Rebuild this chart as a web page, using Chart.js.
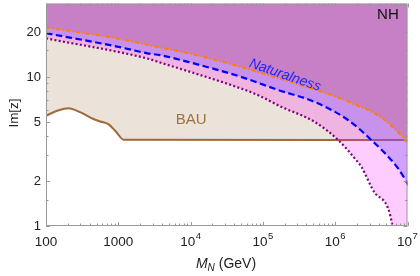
<!DOCTYPE html>
<html><head><meta charset="utf-8">
<script src="https://cdn.jsdelivr.net/npm/chart.js@4/dist/chart.umd.min.js"></script>
<style>html,body{margin:0;padding:0;background:#fff}</style>
</head><body>
<canvas id="c" width="420" height="276"></canvas>
<script>
// BAU boundary (brown solid)
const bauMass = [100, 150, 205, 300, 454, 562, 735, 930, 1186, 1e7];
const bauImz  = [5.47, 5.95, 6.13, 5.75, 5.2, 5.0, 4.79, 4.27, 3.78, 3.76];
// purple dotted; last two points sit below the axis so the fill reaches the right edge
const dotMass = [100, 2512, 3800, 49000, 85000, 178000, 513000, 1.1e6, 1.95e6, 2.3e6, 3.55e6, 6.2e6, 6.9e6, 1e7];
const dotImz  = [18.0, 13.2, 12.4, 8.34, 7.52, 6.28, 4.99, 3.76, 2.76, 2.49, 1.66, 1.0, 0.5, 0.5];
// blue dashed
const blueMass = [100, 1000, 2512, 3800, 10000, 49000, 166000, 513000, 1.5e6, 3.16e6, 7.4e6, 1.05e7];
const blueImz  = [19.5, 15.8, 14.3, 13.9, 12.4, 9.97, 8.1, 6.78, 5.12, 3.76, 2.43, 1.85];
// orange dash-dot (naturalness)
const natMass = [100, 1000, 3800, 10000, 49000, 158000, 708000, 1.5e6, 4.37e6, 8.3e6, 1e7];
const natImz  = [21.3, 17.9, 15.6, 14.2, 11.6, 9.8, 7.8, 6.8, 5.3, 4.0, 3.6];

const xMajor = [100, 1e3, 1e4, 1e5, 1e6, 1e7];
const xLabels = [['100', ''], ['1000', ''], ['10', '4'], ['10', '5'], ['10', '6'], ['10', '7']];
const yMajor = [1, 2, 5, 10, 20];
const yMinor = [1.5, 3, 4, 6, 7, 8, 9, 15, 30];

const pts = (xs, ys) => xs.map((x, i) => ({x: x, y: ys[i]}));
const FONT = '"Liberation Sans", Arial, sans-serif';

const frame = {
  id: 'frame',
  afterDraw(chart) {
    const ctx = chart.ctx, a = chart.chartArea;
    const xs = chart.scales.x, ys = chart.scales.y;
    ctx.save();
    ctx.strokeStyle = '#999';
    ctx.lineWidth = 1;
    ctx.strokeRect(a.left + 0.5, a.top + 0.5, a.right - a.left - 1, a.bottom - a.top - 1);
    ctx.beginPath();
    const xt = (v, len) => {
      const p = Math.round(xs.getPixelForValue(v)) + 0.5;
      ctx.moveTo(p, a.bottom); ctx.lineTo(p, a.bottom - len);
      ctx.moveTo(p, a.top); ctx.lineTo(p, a.top + len);
    };
    const yt = (v, len) => {
      const p = Math.round(ys.getPixelForValue(v)) + 0.5;
      ctx.moveTo(a.left, p); ctx.lineTo(a.left + len, p);
      ctx.moveTo(a.right, p); ctx.lineTo(a.right - len, p);
    };
    xMajor.forEach(v => {
      xt(v, 4);
      for (let k = 2; k < 10; k++) if (v * k < 1e7) xt(v * k, 2.5);
    });
    yMajor.forEach(v => yt(v, 4));
    yMinor.forEach(v => yt(v, 2.5));
    ctx.stroke();

    ctx.fillStyle = '#222';
    ctx.font = '13px ' + FONT;
    ctx.textAlign = 'right';
    ctx.textBaseline = 'middle';
    yMajor.forEach(v => ctx.fillText(String(v), 41, ys.getPixelForValue(v) + 0.5));

    ctx.textBaseline = 'alphabetic';
    ctx.textAlign = 'left';
    xLabels.forEach((lab, i) => {
      const p = xs.getPixelForValue(xMajor[i]);
      ctx.font = '13.5px ' + FONT;
      const w1 = ctx.measureText(lab[0]).width;
      ctx.font = '9.5px ' + FONT;
      const w2 = lab[1] ? ctx.measureText(lab[1]).width + 0.5 : 0;
      const x0 = p - (w1 + w2) / 2;
      ctx.font = '13.5px ' + FONT;
      ctx.fillText(lab[0], x0, 245.5);
      if (lab[1]) {
        ctx.font = '9.5px ' + FONT;
        ctx.fillText(lab[1], x0 + w1 + 0.5, 239);
      }
    });

    // axis titles
    ctx.save();
    ctx.translate(13, 113);
    ctx.rotate(-Math.PI / 2);
    ctx.textAlign = 'center';
    ctx.font = '13.5px ' + FONT;
    ctx.fillText('Im[z]', 0, 4.5);
    ctx.restore();

    ctx.font = 'italic 14px ' + FONT;
    const wM = ctx.measureText('M').width;
    ctx.font = 'italic 10px ' + FONT;
    const wN = ctx.measureText('N').width;
    ctx.font = '14px ' + FONT;
    const wG = ctx.measureText(' (GeV)').width;
    const tx = 226 - (wM + wN + wG) / 2;
    ctx.font = 'italic 14px ' + FONT;
    ctx.fillText('M', tx, 268);
    ctx.font = 'italic 10px ' + FONT;
    ctx.fillText('N', tx + wM, 271);
    ctx.font = '14px ' + FONT;
    ctx.fillText(' (GeV)', tx + wM + wN, 268);

    // region labels
    ctx.textAlign = 'center';
    ctx.textBaseline = 'middle';
    ctx.fillStyle = '#111';
    ctx.font = '15px ' + FONT;
    ctx.fillText('NH', xs.getPixelForValue(5.36e6), ys.getPixelForValue(25.8));
    ctx.fillStyle = '#a0703c';
    ctx.font = '15px ' + FONT;
    ctx.fillText('BAU', xs.getPixelForValue(1.02e4), ys.getPixelForValue(5.1));
    ctx.save();
    ctx.translate(xs.getPixelForValue(2.02e5), ys.getPixelForValue(10.2));
    ctx.rotate(19 * Math.PI / 180);
    ctx.fillStyle = '#1f1fff';
    ctx.font = 'italic 14px ' + FONT;
    ctx.fillText('Naturalness', 0, 0);
    ctx.restore();
    ctx.restore();
  }
};

new Chart(document.getElementById('c'), {
  type: 'line',
  data: {
    datasets: [
      {
        label: 'NH',
        data: pts(natMass, natImz),
        borderColor: '#ff8000',
        backgroundColor: 'rgb(199, 127, 198)',
        borderDash: [4.5, 2, 1.5, 2],
        borderWidth: 2,
        fill: 'end',
        order: 1
      },
      {
        label: 'blue',
        data: pts(blueMass, blueImz),
        borderColor: '#0000ff',
        backgroundColor: 'rgba(128, 80, 255, 0.35)',
        borderDash: [6.5, 3.5],
        borderWidth: 2.2,
        fill: 'end',
        order: 2
      },
      {
        label: 'dotted',
        data: pts(dotMass, dotImz),
        borderColor: '#800080',
        backgroundColor: 'rgba(255, 0, 255, 0.2)',
        borderDash: [2, 2.3],
        borderWidth: 2.2,
        fill: 'end',
        order: 3
      },
      {
        label: 'BAU',
        data: pts(bauMass, bauImz),
        borderColor: '#a0693a',
        backgroundColor: 'rgb(235, 226, 217)',
        borderWidth: 2,
        fill: 'end',
        order: 4
      }
    ]
  },
  options: {
    responsive: false,
    devicePixelRatio: 1,
    animation: false,
    layout: {padding: {top: 3.5, right: 12.5, left: 0, bottom: 0}},
    elements: {
      point: {radius: 0},
      line: {cubicInterpolationMode: 'monotone'}
    },
    plugins: {legend: {display: false}, tooltip: {enabled: false}},
    scales: {
      x: {
        type: 'logarithmic', min: 100, max: 1e7,
        grid: {display: false}, border: {display: false},
        ticks: {display: false},
        afterFit(s) { s.height = 50; }
      },
      y: {
        type: 'logarithmic', min: 1, max: 30.8,
        grid: {display: false}, border: {display: false},
        ticks: {display: false},
        afterFit(s) { s.width = 46; }
      }
    }
  },
  plugins: [frame]
});
</script>
</body></html>
